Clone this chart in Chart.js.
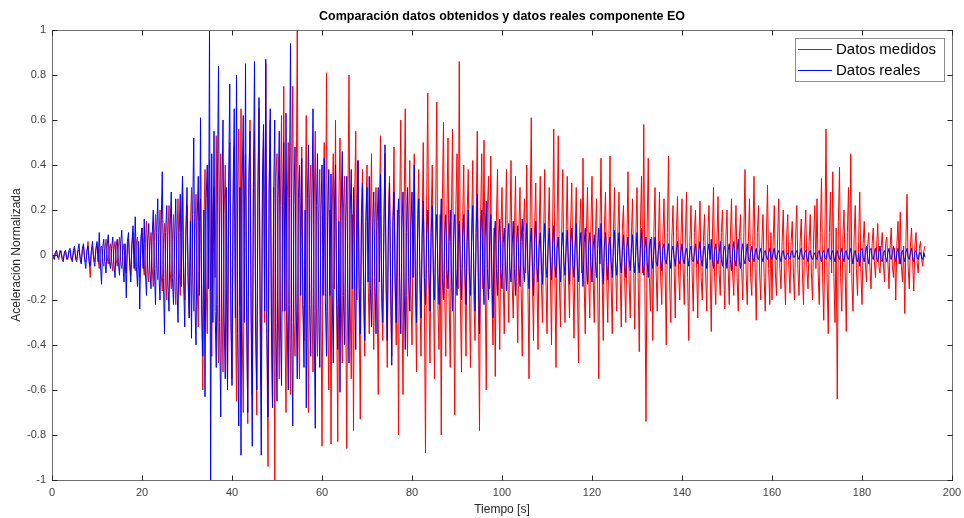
<!DOCTYPE html>
<html>
<head>
<meta charset="utf-8">
<script src="https://cdn.jsdelivr.net/npm/chart.js@4.4.0/dist/chart.umd.min.js"></script>
<style>
  html, body { margin: 0; padding: 0; background: #fff; }
  #wrap { width: 964px; height: 518px; }
</style>
</head>
<body>
<div id="wrap"><canvas id="chart" width="964" height="518"></canvas></div>
<script>
// muestreo cada 0.25 s, de 0 a 194 s (una fila = 10 s)
const paso = 0.25;

// Datos medidos (rojo)
const datosMedidos = [
  0.01, -0.01, -0.01, 0.01, 0.02, -0.01, -0.02, 0.02, 0.01, -0.01, -0.02, 0.01, 0.02, -0.02, -0.01, 0.01, 0.02, -0.02, -0.02, 0.01, 0.03, -0.01, -0.02, 0.02, 0.02, -0.01, -0.03, 0.02, 0.04, -0.02, -0.03, 0.01, 0.06, -0.03, -0.10, 0.02, 0.04, -0.01, -0.03, 0.02,
  0.05, -0.02, -0.06, 0.03, 0.04, -0.03, -0.05, 0.02, 0.07, -0.01, -0.04, 0.03, 0.05, -0.03, -0.07, 0.02, 0.06, -0.02, -0.05, 0.04, 0.08, -0.03, -0.06, 0.02, 0.05, -0.04, -0.08, 0.03, 0.07, -0.02, -0.09, 0.04, 0.10, -0.03, -0.07, 0.05, 0.08, -0.04, -0.10, 0.03,
  0.12, -0.04, -0.09, 0.05, 0.15, -0.06, -0.12, 0.04, 0.10, -0.05, -0.14, 0.06, 0.18, -0.03, -0.11, 0.07, 0.20, -0.08, -0.16, 0.05, 0.14, -0.06, -0.20, 0.08, 0.22, -0.07, -0.15, 0.06, 0.18, -0.09, -0.22, 0.07, 0.25, -0.05, -0.18, 0.10, 0.35, -0.08, -0.20, 0.09,
  0.22, -0.10, -0.28, 0.12, 0.30, -0.08, -0.25, 0.10, 0.27, -0.12, -0.32, 0.15, 0.25, -0.18, -0.60, 0.14, 0.38, -0.12, -0.35, 0.18, 0.42, -0.15, -0.45, 0.20, 0.30, -0.10, 0.53, -0.22, -0.48, 0.16, 0.45, -0.20, -0.52, 0.18, 0.40, -0.15, -0.58, 0.22, 0.50, -0.18,
  -0.55, 0.20, 0.48, -0.18, -0.65, 0.25, 0.56, -0.22, 0.65, -0.30, -0.70, 0.22, 0.45, -0.20, -0.75, 0.28, 0.60, -0.25, -0.62, 0.30, 0.55, -0.28, -0.71, 0.24, 0.65, -0.20, -0.58, 0.22, 0.52, -0.30, 0.85, -0.35, -0.94, 0.28, 0.60, -0.25, -0.68, 0.30, -1.0, 0.35,
  0.45, -0.20, -0.55, 0.22, 0.62, -0.25, 0.75, -0.28, -0.70, 0.20, 0.50, -0.22, -0.62, 0.28, 0.75, -0.30, -0.45, 0.20, 1.0, -0.25, -0.55, 0.18, 0.48, -0.22, -0.38, 0.15, 0.62, -0.20, -0.70, 0.25, 0.40, -0.18, -0.52, 0.20, 0.55, -0.24, -0.45, 0.15, 0.38, -0.20,
  -0.85, 0.22, 0.50, -0.18, 0.81, -0.25, -0.60, 0.20, -0.84, 0.18, 0.45, -0.15, 0.60, -0.22, -0.83, 0.25, 0.52, -0.18, -0.48, 0.20, 0.35, -0.15, -0.86, 0.22, 0.80, -0.20, -0.55, 0.18, -0.78, 0.25, 0.55, -0.20, 0.42, -0.15, -0.73, 0.18, 0.38, -0.20, -0.45, 0.15,
  0.40, -0.12, -0.35, 0.15, 0.45, -0.18, -0.42, 0.12, 0.30, -0.15, -0.62, 0.18, 0.53, -0.20, -0.38, 0.14, 0.45, -0.12, -0.50, 0.16, 0.35, -0.18, -0.45, 0.12, 0.48, -0.15, -0.40, 0.20, -0.80, 0.18, 0.60, -0.15, -0.62, 0.20, 0.65, -0.18, -0.45, 0.12, 0.42, -0.16,
  -0.40, 0.15, 0.45, -0.12, -0.52, 0.18, 0.38, -0.15, -0.45, 0.12, 0.50, -0.20, -0.88, 0.22, 0.72, -0.18, -0.48, 0.15, 0.40, -0.12, -0.55, 0.20, 0.68, -0.22, -0.42, 0.18, -0.80, 0.25, 0.59, -0.15, -0.45, 0.18, 0.52, -0.20, -0.50, 0.15, 0.56, -0.18, -0.71, 0.22,
  0.45, -0.15, 0.86, -0.20, -0.52, 0.15, 0.40, -0.12, -0.45, 0.18, 0.38, -0.15, -0.50, 0.12, 0.42, -0.18, -0.38, 0.15, 0.55, -0.20, -0.78, 0.18, 0.45, -0.15, 0.51, -0.12, -0.60, 0.20, 0.35, -0.15, 0.44, -0.18, -0.40, 0.12, -0.54, 0.15, 0.38, -0.12, -0.42, 0.10,
  0.30, -0.10, -0.35, 0.12, 0.38, -0.08, -0.30, 0.10, 0.42, -0.12, -0.28, 0.08, 0.35, -0.10, -0.39, 0.12, 0.30, -0.15, -0.45, 0.10, 0.25, -0.08, 0.40, -0.12, -0.55, 0.15, 0.61, -0.10, -0.38, 0.12, 0.32, -0.08, -0.42, 0.10, 0.35, -0.12, -0.30, 0.08, 0.38, -0.10,
  -0.35, 0.10, 0.30, -0.08, -0.40, 0.12, 0.56, -0.10, -0.50, 0.15, 0.53, -0.12, -0.32, 0.08, 0.38, -0.10, -0.30, 0.10, 0.35, -0.08, -0.28, 0.12, 0.32, -0.10, -0.37, 0.08, 0.30, -0.12, -0.48, 0.10, 0.25, -0.08, 0.43, -0.12, -0.35, 0.10, 0.30, -0.08, -0.28, 0.12,
  0.35, -0.10, -0.30, 0.08, 0.25, -0.12, -0.55, 0.10, 0.43, -0.08, -0.38, 0.12, 0.28, -0.10, -0.30, 0.06, 0.44, -0.12, -0.35, 0.08, 0.30, -0.06, -0.25, 0.10, 0.28, -0.08, -0.32, 0.12, 0.22, -0.10, -0.30, 0.06, 0.37, -0.12, -0.28, 0.08, 0.25, -0.06, -0.33, 0.10,
  0.30, -0.10, -0.43, 0.12, 0.35, -0.08, 0.58, -0.15, -0.74, 0.12, 0.43, -0.10, -0.25, 0.08, -0.38, 0.10, 0.30, -0.08, -0.25, 0.06, 0.28, -0.10, -0.22, 0.08, 0.25, -0.06, -0.40, 0.10, 0.44, -0.12, -0.30, 0.08, 0.22, -0.06, -0.28, 0.10, 0.26, -0.08, -0.20, 0.06,
  0.25, -0.06, -0.22, 0.08, 0.28, -0.10, -0.38, 0.06, 0.22, -0.08, -0.25, 0.10, 0.20, -0.06, -0.28, 0.08, 0.24, -0.10, -0.20, 0.06, 0.18, -0.08, -0.25, 0.10, 0.22, -0.06, -0.34, 0.08, 0.30, -0.10, -0.22, 0.06, 0.26, -0.08, -0.18, 0.10, 0.20, -0.06, -0.24, 0.08,
  0.20, -0.06, -0.22, 0.08, 0.25, -0.08, -0.18, 0.06, 0.22, -0.10, -0.25, 0.08, 0.18, -0.06, -0.20, 0.10, 0.38, -0.08, -0.22, 0.06, 0.25, -0.10, -0.18, 0.08, 0.35, -0.06, -0.29, 0.10, 0.22, -0.08, -0.20, 0.06, 0.18, -0.10, -0.25, 0.08, 0.31, -0.06, -0.22, 0.10,
  -0.20, 0.06, 0.22, -0.08, -0.18, 0.08, 0.25, -0.06, -0.15, 0.06, 0.20, -0.08, -0.22, 0.08, 0.18, -0.06, -0.17, 0.06, 0.15, -0.08, -0.20, 0.08, 0.22, -0.06, -0.18, 0.06, 0.16, -0.08, -0.22, 0.08, 0.20, -0.06, -0.15, 0.06, 0.18, -0.08, -0.20, 0.08, 0.22, -0.06,
  0.25, -0.08, -0.22, 0.10, 0.34, -0.10, -0.29, 0.08, 0.56, -0.12, -0.35, 0.10, 0.28, -0.08, 0.37, -0.10, -0.30, 0.12, -0.64, 0.15, 0.39, -0.10, -0.25, 0.08, 0.20, -0.06, -0.34, 0.10, 0.30, -0.08, 0.45, -0.12, -0.25, 0.08, 0.22, -0.06, -0.18, 0.06, 0.28, -0.08,
  -0.22, 0.05, 0.15, -0.04, -0.12, 0.04, 0.10, -0.05, -0.15, 0.05, 0.12, -0.03, -0.10, 0.04, 0.14, -0.05, -0.08, 0.03, 0.10, -0.04, -0.12, 0.05, 0.08, -0.03, -0.15, 0.04, 0.12, -0.05, -0.10, 0.03, -0.20, 0.05, 0.15, -0.04, 0.19, -0.05, -0.12, 0.04, -0.26, 0.06,
  0.27, -0.05, -0.15, 0.04, 0.12, -0.03, -0.16, 0.04, 0.10, -0.03, -0.08, 0.03, 0.06, -0.02, -0.05, 0.02, 0.04
];

// Datos reales (azul)
const datosReales = [
  0.01, -0.01, -0.02, 0.01, 0.02, -0.01, -0.01, 0.01, 0.02, -0.02, -0.03, 0.01, 0.02, -0.01, -0.02, 0.02, 0.03, -0.01, -0.03, 0.02, 0.04, -0.02, -0.03, 0.02, 0.05, -0.02, -0.04, 0.03, 0.05, -0.02, -0.06, 0.02, 0.04, -0.03, -0.05, 0.02, 0.06, -0.02, -0.05, 0.03,
  0.06, -0.03, 0.10, -0.04, -0.13, 0.03, 0.07, -0.03, -0.08, 0.04, 0.09, -0.03, -0.06, 0.03, 0.08, -0.04, -0.10, 0.04, 0.07, -0.03, -0.09, 0.05, 0.11, -0.04, -0.12, 0.05, -0.19, 0.06, 0.10, -0.04, -0.12, 0.05, 0.13, -0.06, 0.17, -0.05, -0.14, 0.06, -0.24, 0.08,
  0.12, -0.06, 0.16, -0.08, -0.18, 0.06, 0.14, -0.07, -0.15, 0.08, 0.20, -0.06, -0.22, 0.10, 0.25, -0.08, -0.20, 0.12, 0.37, -0.10, -0.35, 0.10, 0.22, -0.12, -0.25, 0.12, 0.28, -0.10, -0.22, 0.08, 0.25, -0.12, -0.30, 0.10, 0.27, -0.14, 0.35, -0.12, -0.32, 0.12,
  0.30, -0.12, -0.28, 0.15, -0.37, 0.18, 0.52, -0.20, -0.40, 0.15, 0.35, -0.18, 0.61, -0.22, -0.45, 0.20, -0.63, 0.25, 0.40, -0.15, 1.0, -1.0, 0.45, -0.30, 0.55, -0.25, -0.50, 0.28, 0.84, -0.30, -0.72, 0.25, 0.60, -0.28, -0.55, 0.30, -0.60, 0.32, 0.76, -0.30,
  -0.58, 0.30, 0.65, -0.28, 0.80, -0.35, -0.76, 0.30, -0.89, 0.32, 0.62, -0.30, 0.85, -0.30, -0.70, 0.35, 0.55, -0.28, -0.85, 0.30, 0.86, -0.32, -0.60, 0.28, 0.70, -0.30, -0.89, 0.32, 0.58, -0.25, 0.87, -0.35, -0.72, 0.30, 0.65, -0.28, -0.68, 0.25, 0.60, -0.30,
  -0.65, 0.25, 0.55, -0.28, -0.58, 0.22, 0.50, -0.25, 0.63, -0.28, -0.60, 0.25, 0.94, -0.30, -0.76, 0.22, 0.48, -0.20, -0.55, 0.25, 0.40, -0.18, 0.43, -0.22, -0.50, 0.20, -0.68, 0.25, 0.49, -0.22, -0.45, 0.20, 0.65, -0.25, -0.77, 0.22, 0.45, -0.20, -0.50, 0.18,
  0.40, -0.18, 0.43, -0.20, -0.45, 0.15, 0.38, -0.18, 0.36, -0.15, -0.48, 0.20, 0.40, -0.18, -0.42, 0.15, -0.61, 0.20, 0.46, -0.18, -0.40, 0.15, 0.35, -0.15, -0.48, 0.18, 0.38, -0.15, 0.30, -0.12, -0.42, 0.18, 0.42, -0.15, -0.35, 0.12, 0.32, -0.12, -0.38, 0.15,
  0.30, -0.12, 0.35, -0.15, -0.32, 0.12, 0.28, -0.10, -0.35, 0.15, 0.30, -0.12, 0.36, -0.12, -0.30, 0.10, 0.49, -0.15, -0.38, 0.12, 0.32, -0.10, -0.49, 0.15, 0.28, -0.12, -0.30, 0.10, 0.25, -0.10, -0.35, 0.12, 0.28, -0.12, -0.42, 0.10, 0.30, -0.10, -0.25, 0.12,
  0.28, -0.10, 0.40, -0.12, -0.30, 0.10, 0.25, -0.08, -0.28, 0.08, 0.24, -0.10, -0.22, 0.08, 0.20, -0.06, -0.25, 0.10, 0.22, -0.08, -0.20, 0.06, 0.18, -0.08, -0.22, 0.08, 0.25, -0.10, -0.20, 0.08, 0.18, -0.06, -0.15, 0.06, 0.20, -0.08, -0.25, 0.08, 0.18, -0.06,
  -0.18, 0.06, 0.15, -0.06, -0.20, 0.08, 0.18, -0.06, -0.22, 0.06, 0.20, -0.08, -0.18, 0.06, 0.22, -0.08, -0.25, 0.10, 0.27, -0.10, -0.35, 0.10, 0.20, -0.08, -0.22, 0.08, 0.24, -0.06, -0.20, 0.06, 0.18, -0.08, -0.28, 0.08, 0.15, -0.06, -0.18, 0.05, 0.16, -0.06,
  -0.15, 0.05, 0.12, -0.04, -0.16, 0.06, 0.14, -0.05, -0.12, 0.04, 0.15, -0.06, -0.18, 0.05, 0.13, -0.04, -0.14, 0.06, 0.16, -0.05, -0.12, 0.04, 0.14, -0.06, -0.15, 0.05, 0.12, -0.04, -0.18, 0.06, 0.15, -0.05, -0.12, 0.04, 0.10, -0.04, -0.13, 0.05, 0.14, -0.05,
  -0.10, 0.04, 0.12, -0.03, -0.11, 0.04, 0.13, -0.04, -0.10, 0.03, 0.08, -0.04, -0.12, 0.04, 0.10, -0.03, -0.09, 0.03, 0.11, -0.04, -0.13, 0.05, 0.12, -0.04, -0.10, 0.04, 0.14, -0.05, -0.12, 0.04, 0.10, -0.03, -0.14, 0.05, 0.12, -0.04, -0.13, 0.04, 0.10, -0.03,
  -0.12, 0.04, 0.09, -0.03, -0.10, 0.03, 0.12, -0.04, 0.14, -0.05, -0.13, 0.04, 0.10, -0.03, -0.11, 0.04, 0.08, -0.03, -0.10, 0.03, 0.11, -0.04, -0.09, 0.03, 0.10, -0.03, -0.08, 0.02, 0.09, -0.03, -0.10, 0.03, 0.08, -0.02, -0.07, 0.03, 0.09, -0.03, -0.08, 0.02,
  0.10, -0.03, -0.08, 0.03, 0.12, -0.04, -0.09, 0.03, 0.08, -0.03, -0.10, 0.04, 0.07, -0.02, -0.06, 0.02, 0.08, -0.03, -0.05, 0.02, 0.06, -0.02, -0.07, 0.03, 0.05, -0.02, -0.04, 0.01, 0.05, -0.02, -0.06, 0.02, 0.04, -0.01, -0.05, 0.02, 0.06, -0.02, -0.04, 0.01,
  0.05, -0.02, -0.04, 0.01, 0.03, -0.01, -0.05, 0.02, 0.04, -0.02, -0.03, 0.01, 0.05, -0.02, -0.04, 0.02, 0.06, -0.02, -0.05, 0.02, 0.04, -0.01, -0.06, 0.02, 0.05, -0.02, 0.07, -0.02, -0.06, 0.02, 0.05, -0.02, -0.04, 0.01, 0.06, -0.02, -0.05, 0.02, 0.04, -0.01,
  -0.06, 0.02, 0.05, -0.02, -0.07, 0.02, 0.06, -0.02, -0.05, 0.02, 0.07, -0.03, -0.06, 0.02, 0.05, -0.02, -0.04, 0.01, 0.05, -0.02, -0.03, 0.01, 0.04, -0.01, -0.03, 0.01, 0.03, -0.01, -0.02, 0.01, 0.03, -0.01, -0.03, 0.01, 0.02, -0.01, -0.02, 0.01, 0.03, -0.01,
  -0.02, 0.01, 0.03, -0.01, -0.02, 0.01, 0.02, -0.01, -0.03, 0.01, 0.02, -0.01, -0.02, 0.00, 0.01, -0.01, -0.02, 0.01, 0.02, -0.01, -0.01, 0.01, 0.02, -0.01, -0.02, 0.01, 0.03, -0.01, -0.02, 0.01, 0.02, -0.01, -0.03, 0.01, 0.02, -0.01, -0.02, 0.00, 0.01, -0.01,
  -0.02, 0.01, 0.02, -0.01, -0.03, 0.01, 0.02, -0.01, -0.02, 0.01, 0.03, -0.01, -0.02, 0.01, 0.02, -0.01, -0.03, 0.01, 0.02, -0.01, -0.02, 0.01, 0.03, -0.01, -0.03, 0.01, 0.02, -0.01, -0.02, 0.01, 0.03, -0.01, -0.04, 0.01, 0.02, -0.02, -0.03, 0.01, -0.05, 0.02,
  0.03, -0.01, -0.03, 0.01, 0.04, -0.01, -0.04, 0.02, 0.03, -0.01, -0.02, 0.01, 0.03, -0.01, -0.03, 0.01, 0.04, -0.02, -0.03, 0.01, 0.02, -0.01, -0.03, 0.01, 0.03, -0.01, -0.02, 0.01, 0.04, -0.01, -0.03, 0.01, 0.03, -0.01, -0.04, 0.01, 0.02, -0.01, -0.03, 0.01,
  0.03, -0.01, -0.02, 0.01, 0.03, -0.01, -0.03, 0.01, 0.02, -0.01, -0.02, 0.01, 0.01, -0.01, -0.02, 0.01, -0.01
];

// marcas de los ejes
const ticksX = [0, 20, 40, 60, 80, 100, 120, 140, 160, 180, 200];
const ticksY = [-1, -0.8, -0.6, -0.4, -0.2, 0, 0.2, 0.4, 0.6, 0.8, 1];

const titulo = 'Comparación datos obtenidos y datos reales componente EO';
const etiquetaX = 'Tiempo [s]';
const etiquetaY = 'Aceleración Normalizada';
const series = ['Datos medidos', 'Datos reales'];

const toPoints = arr => arr.map((v, i) => ({ x: i * paso, y: v }));

const FONT = '"Liberation Sans", Arial, Helvetica, sans-serif';
const AXIS_COLOR = '#6e6e6e';

// marco estilo matlab: caja, marcas hacia dentro, titulo, etiquetas y leyenda
const matlabFrame = {
  id: 'matlabFrame',
  afterDraw(chart) {
    const { ctx, chartArea: a, scales } = chart;
    const L = Math.round(a.left) + 0.5, R = Math.round(a.right) + 0.5;
    const T = Math.round(a.top) + 0.5, B = Math.round(a.bottom) + 0.5;
    ctx.save();
    ctx.strokeStyle = AXIS_COLOR;
    ctx.lineWidth = 1;
    ctx.strokeRect(L, T, R - L, B - T);

    ctx.strokeStyle = '#262626';
    ctx.beginPath();
    ticksX.forEach(v => {
      const px = Math.round(scales.x.getPixelForValue(v)) + 0.5;
      ctx.moveTo(px, B); ctx.lineTo(px, B - 5);
      ctx.moveTo(px, T); ctx.lineTo(px, T + 5);
    });
    ticksY.forEach(v => {
      const py = Math.round(scales.y.getPixelForValue(v)) + 0.5;
      ctx.moveTo(L, py); ctx.lineTo(L + 5, py);
      ctx.moveTo(R, py); ctx.lineTo(R - 5, py);
    });
    ctx.stroke();

    // titulo
    ctx.fillStyle = '#000';
    ctx.font = 'bold 12.5px ' + FONT;
    ctx.textAlign = 'center';
    ctx.textBaseline = 'middle';
    ctx.fillText(titulo, (a.left + a.right) / 2, 17);

    // etiquetas de ejes
    ctx.fillStyle = '#262626';
    ctx.font = '12px ' + FONT;
    ctx.fillText(etiquetaX, (a.left + a.right) / 2, 510);
    ctx.save();
    ctx.translate(17, (a.top + a.bottom) / 2);
    ctx.rotate(-Math.PI / 2);
    ctx.fillText(etiquetaY, 0, 0);
    ctx.restore();

    // leyenda
    const bx = 795.5, by = 38.5, bw = 149, bh = 43;
    ctx.fillStyle = '#fff';
    ctx.fillRect(bx, by, bw, bh);
    ctx.strokeStyle = '#8c8c8c';
    ctx.strokeRect(bx, by, bw, bh);
    const rows = [49.5, 70.5];
    const colors = chart.data.datasets.map(d => d.borderColor);
    ctx.font = '15px ' + FONT;
    ctx.textAlign = 'left';
    rows.forEach((ry, i) => {
      ctx.strokeStyle = colors[i];
      ctx.beginPath();
      ctx.moveTo(798, ry); ctx.lineTo(832, ry);
      ctx.stroke();
      ctx.fillStyle = '#000';
      ctx.fillText(series[i], 836, ry);
    });
    ctx.restore();
  }
};

const ctx = document.getElementById('chart').getContext('2d');
new Chart(ctx, {
  type: 'line',
  data: {
    datasets: [
      {
        label: series[0],
        data: toPoints(datosMedidos),
        borderColor: 'rgb(255, 0, 0)',
        borderWidth: 1,
        pointRadius: 0,
        tension: 0,
        fill: false,
        order: 2,
      },
      {
        label: series[1],
        data: toPoints(datosReales),
        borderColor: 'rgb(0, 0, 255)',
        borderWidth: 1,
        pointRadius: 0,
        tension: 0,
        fill: false,
        order: 1,
      },
    ],
  },
  options: {
    responsive: false,
    animation: false,
    events: [],
    layout: { padding: { top: 30, right: 12, left: 0, bottom: 0 } },
    plugins: {
      legend: { display: false },
      title: { display: false },
      tooltip: { enabled: false },
    },
    scales: {
      x: {
        type: 'linear',
        min: 0,
        max: 200,
        afterFit: s => { s.height = 38; s.paddingLeft = 0; s.paddingRight = 0; },
        afterBuildTicks: s => { s.ticks = ticksX.map(v => ({ value: v })); },
        grid: { display: false, drawTicks: false },
        border: { display: false },
        ticks: {
          padding: 6,
          color: '#404040',
          font: { family: FONT, size: 11 },
          maxRotation: 0,
          callback: v => String(v),
        },
      },
      y: {
        type: 'linear',
        min: -1,
        max: 1,
        afterFit: s => { s.width = 52; s.paddingTop = 0; s.paddingBottom = 0; },
        afterBuildTicks: s => { s.ticks = ticksY.map(v => ({ value: v })); },
        grid: { display: false, drawTicks: false },
        border: { display: false },
        ticks: {
          padding: 6,
          color: '#404040',
          font: { family: FONT, size: 11 },
          callback: v => String(Number(v.toFixed(1))),
        },
      },
    },
  },
  plugins: [matlabFrame],
});
</script>
</body>
</html>
